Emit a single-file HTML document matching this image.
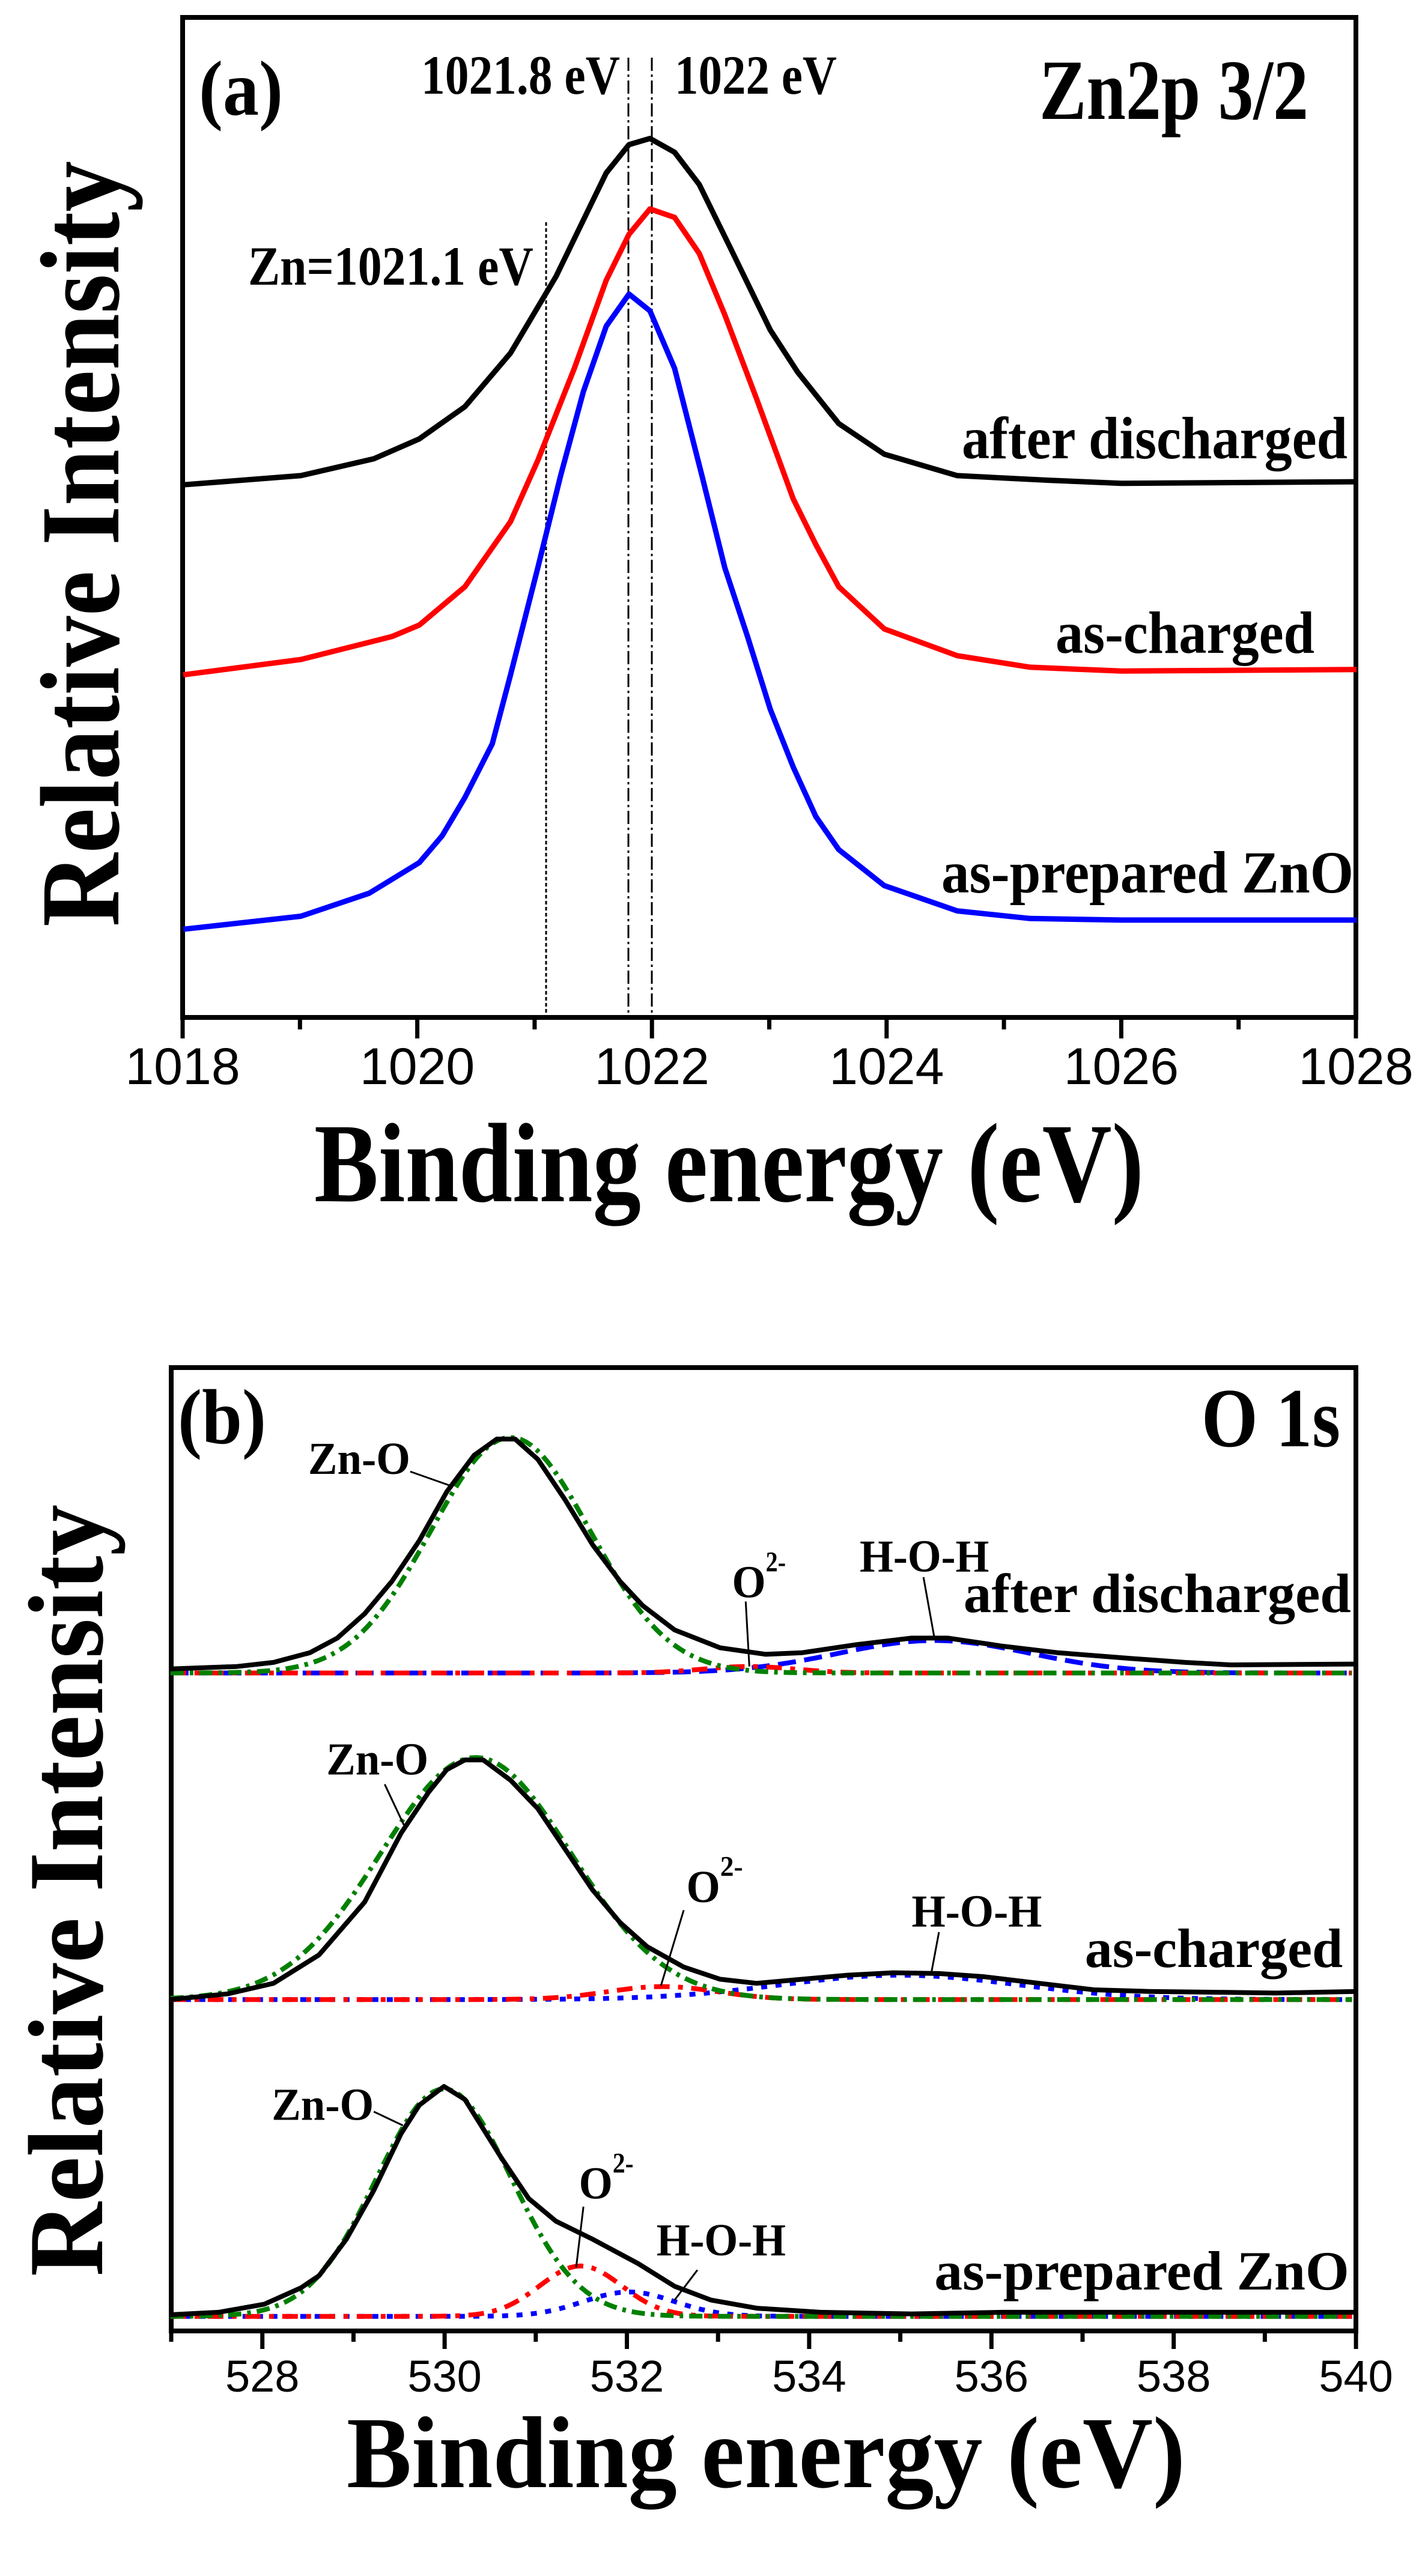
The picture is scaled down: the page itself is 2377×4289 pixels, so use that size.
<!DOCTYPE html>
<html><head><meta charset="utf-8">
<style>
html,body{margin:0;padding:0;background:#fff;}
svg{display:block;}
text{font-family:"Liberation Serif",serif;font-weight:bold;fill:#000;}
.tk{font-family:"Liberation Sans",sans-serif;font-weight:normal;}
</style></head>
<body>
<svg id="s" width="2377" height="4289" viewBox="0 0 2377 4289" xmlns="http://www.w3.org/2000/svg">
<rect width="2377" height="4289" fill="#fff"/>
<g id="g"></g>
<text x="331" y="191" font-size="130" textLength="140" lengthAdjust="spacingAndGlyphs">(a)</text>
<text x="701" y="156" font-size="92" textLength="331" lengthAdjust="spacingAndGlyphs">1021.8 eV</text>
<text x="1123" y="156" font-size="92" textLength="270" lengthAdjust="spacingAndGlyphs">1022 eV</text>
<text x="1730" y="198" font-size="143" textLength="448" lengthAdjust="spacingAndGlyphs">Zn2p 3/2</text>
<text x="413" y="474" font-size="92" textLength="475" lengthAdjust="spacingAndGlyphs">Zn=1021.1 eV</text>
<text x="1601" y="763" font-size="100" textLength="642" lengthAdjust="spacingAndGlyphs">after discharged</text>
<text x="1757" y="1087" font-size="100" textLength="431" lengthAdjust="spacingAndGlyphs">as-charged</text>
<text x="1567" y="1486" font-size="100" textLength="686" lengthAdjust="spacingAndGlyphs">as-prepared ZnO</text>
<text x="523" y="2000" font-size="188" textLength="1381" lengthAdjust="spacingAndGlyphs">Binding energy (eV)</text>
<text transform="translate(197,1543) rotate(-90)" font-size="188" textLength="1275" lengthAdjust="spacingAndGlyphs">Relative Intensity</text>
<text x="296" y="2403" font-size="130" textLength="147" lengthAdjust="spacingAndGlyphs">(b)</text>
<text x="2000" y="2408" font-size="140" textLength="231" lengthAdjust="spacingAndGlyphs">O 1s</text>
<text x="577" y="4141" font-size="170" textLength="1396" lengthAdjust="spacingAndGlyphs">Binding energy (eV)</text>
<text transform="translate(170,3790) rotate(-90)" font-size="178" textLength="1285" lengthAdjust="spacingAndGlyphs">Relative Intensity</text>
<g id="bl"></g>
</svg>
<script>
var NS="http://www.w3.org/2000/svg",G=document.getElementById("g"),BL=document.getElementById("bl");
function el(t,a,p){var e=document.createElementNS(NS,t);for(var k in a)e.setAttribute(k,a[k]);(p||G).appendChild(e);return e;}
function path(pts,st,w,dash){var d="M"+pts.map(function(p){return p[0].toFixed(1)+","+p[1].toFixed(1)}).join(" L");
 var a={d:d,fill:"none",stroke:st,"stroke-width":w,"stroke-linejoin":"round"};if(dash)a["stroke-dasharray"]=dash;el("path",a);}
function A(p){return p.map(function(q){return [q[0]/0.659, 29+(q[1]-22)*1.2758];});}
function B(p){return p.map(function(q){return [q[0]/0.659, 2277+(q[1]-127)/0.7394];});}
var L=304,R=2257,T=29,Bo=1694;
el("rect",{x:L,y:T,width:R-L,height:Bo-T,fill:"none",stroke:"#000","stroke-width":8});
for(var v=1018;v<=1028;v++){var x=L+(v-1018)*195.3;var maj=(v%2==0);
 el("line",{x1:x,y1:Bo,x2:x,y2:Bo+(maj?35:20),stroke:"#000","stroke-width":7});
 if(maj){var t=el("text",{x:x,y:1805,"font-size":86,"text-anchor":"middle","class":"tk"});t.textContent=v;}}
el("line",{x1:909,y1:370,x2:909,y2:1690,stroke:"#000","stroke-width":3,"stroke-dasharray":"6,4"});
el("line",{x1:1046,y1:96,x2:1046,y2:1690,stroke:"#000","stroke-width":3,"stroke-dasharray":"22,6,4,6"});
el("line",{x1:1085,y1:96,x2:1085,y2:1690,stroke:"#000","stroke-width":3,"stroke-dasharray":"22,6,4,6"});
var blk=[[201,632],[330,620],[410,598],[460,572],[510,530],[560,460],[610,360],[665,225],[690,188],[713,180],[740,198],[767,240],[800,320],[845,430],[875,485],[920,552],[970,592],[1050,620],[1150,626],[1230,630],[1488,628]];
var red=[[201,880],[330,860],[430,830],[460,815],[510,765],[560,680],[590,600],[630,480],[665,365],[690,305],[713,272],[740,283],[767,330],[795,410],[830,520],[870,650],[895,710],[920,765],[970,820],[1050,855],[1130,870],[1230,875],[1488,873]];
var blu=[[201,1212],[330,1195],[405,1165],[460,1125],[485,1090],[510,1040],[540,970],[560,880],[590,740],[615,620],[640,510],[665,425],[690,383],[713,405],[740,480],[770,620],[795,740],[820,830],[845,925],[870,1000],[895,1065],[920,1108],[970,1155],[1050,1188],[1130,1198],[1230,1200],[1488,1200]];
path(A(blk),"#000",9);path(A(red),"#ff0000",9);path(A(blu),"#0000ff",9);
var L2=285,R2=2257,T2=2277,B2=3881;
el("rect",{x:L2,y:T2,width:R2-L2,height:B2-T2,fill:"none",stroke:"#000","stroke-width":8});
for(var v=527;v<=540;v++){var x=L2+(v-527)*151.7;var maj=(v%2==0);
 el("line",{x1:x,y1:B2,x2:x,y2:B2+(maj?30:18),stroke:"#000","stroke-width":7});
 if(maj){var t=el("text",{x:x,y:3982,"font-size":74,"text-anchor":"middle","class":"tk"});t.textContent=v;}}
function gauss(base,c,h,s,x0,x1){var p=[];for(var x=x0;x<=x1;x+=6){p.push([x,base-h*Math.exp(-Math.pow((x-c)/s,2)/2)]);}return p;}
var groups=[
 {b:503,blk:[[187,498],[260,495],[300,490],[340,478],[370,460],[400,430],[430,390],[460,340],[490,280],[520,235],[545,215],[565,215],[590,240],[620,290],[650,345],[680,390],[705,420],[740,450],[790,472],[840,480],[880,478],[940,468],[1000,460],[1040,460],[1100,470],[1160,478],[1240,485],[1300,490],[1350,493],[1488,492]],
  g:[560,290,87],r:[822,8,50],bl:[1025,40,105],bd:"30,14"},
 {b:905,blk:[[187,905],[250,898],[300,885],[350,850],[400,785],[440,700],[470,650],[490,622],[510,610],[530,610],[560,635],[590,670],[620,720],[650,770],[680,810],[710,840],[750,865],[790,880],[830,885],[880,880],[930,875],[980,872],[1030,873],[1080,877],[1140,885],[1200,893],[1260,895],[1330,896],[1400,897],[1488,895]],
  g:[522,298,104],r:[727,16,60],bl:[987,30,130],bd:"10,14"},
 {b:1295,blk:[[187,1293],[240,1290],[290,1280],[330,1260],[350,1245],[380,1200],[410,1140],[440,1070],[460,1035],[487,1012],[510,1028],[550,1100],[580,1150],[610,1178],[650,1200],[700,1230],[740,1258],[780,1275],[830,1285],[900,1290],[1000,1292],[1100,1290],[1300,1290],[1488,1290]],
  g:[487,280,74],r:[637,62,45],bl:[690,30,50],bd:"10,14"}
];
groups.forEach(function(q){
 path(B(gauss(q.b,q.bl[0],q.bl[1],q.bl[2],187,1488)),"#0000ff",8,q.bd);
 path(B(gauss(q.b,q.r[0],q.r[1],q.r[2],187,1488)),"#ff0000",8,"26,14,8,14");
 path(B(gauss(q.b,q.g[0],q.g[1],q.g[2],187,1488)),"#008000",8,"22,10,6,10");
 path(B(q.blk),"#000",8);
});
function lab(txt,x,y,x2,fs){var p=B([[x,y],[x2,y]]);var t=el("text",{x:p[0][0],y:p[0][1],"font-size":fs,textLength:(p[1][0]-p[0][0]),lengthAdjust:"spacingAndGlyphs"},BL);t.textContent=txt;}
function sup(x,y,x2){lab("2-",x,y,x2,48);}
function ln(a,b,c,d){var p=B([[a,b],[c,d]]);el("line",{x1:p[0][0],y1:p[0][1],x2:p[1][0],y2:p[1][1],stroke:"#000","stroke-width":3},BL);}
lab("Zn-O",338,258,450,76);ln(450,255,493,272);
lab("O",803,410,840,76);sup(840,378,862);ln(818,415,822,495);
lab("H-O-H",943,378,1085,76);ln(1013,385,1025,460);
lab("after discharged",1057,428,1482,92);
lab("Zn-O",358,628,470,76);ln(422,640,443,690);
lab("O",753,785,790,76);sup(790,753,815);ln(750,795,725,888);
lab("H-O-H",1000,815,1143,76);ln(1030,822,1022,870);
lab("as-charged",1190,865,1473,92);
lab("Zn-O",298,1053,410,76);ln(410,1043,442,1060);
lab("O",635,1150,672,76);sup(672,1118,695);ln(640,1160,632,1235);
lab("H-O-H",720,1220,862,76);ln(765,1238,740,1275);
lab("as-prepared ZnO",1025,1262,1480,92);
</script>
</body></html>
